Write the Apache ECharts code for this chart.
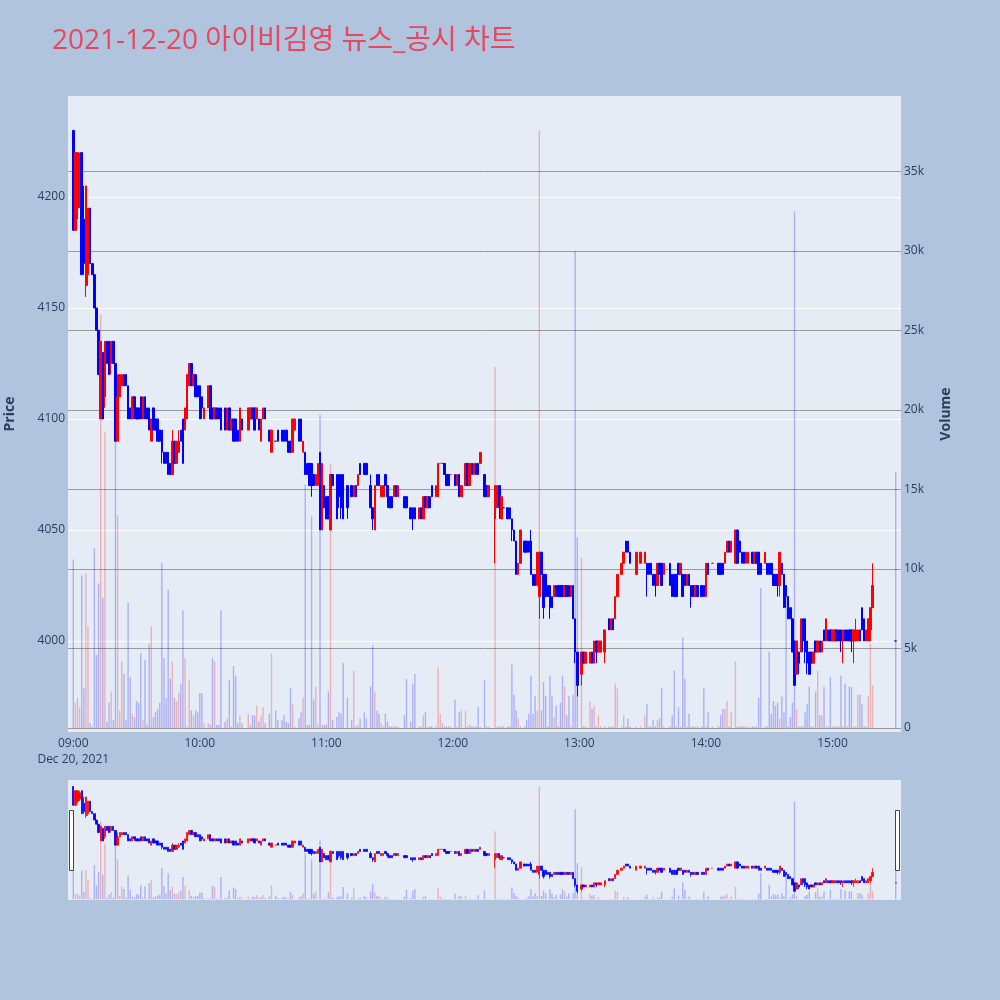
<!DOCTYPE html>
<html><head><meta charset="utf-8">
<script src="https://cdn.jsdelivr.net/npm/echarts@6/dist/echarts.min.js"></script>
<style>html,body{margin:0;padding:0;background:#b0c4de;}#c{width:1000px;height:1000px;}</style>
</head><body><div id="c"></div>
<script>
const titleText = '2021-12-20 아이비김영 뉴스_공시 차트';
const dateLabel = 'Dec 20, 2021';
const hourTicks = ['09:00','10:00','11:00','12:00','13:00','14:00','15:00'];
// one entry per minute from 09:00 (index 0) to 15:30 (index 390); null = no trade
const opens = [
4230,4185,4195,4200,4220,4190,4160,4165,4195,4170,
4165,4150,4140,4100,4130,4110,4135,4135,4125,4135,
4125,4090,4110,4115,4120,4120,4115,4105,4100,4110,
4105,4105,4110,4100,4110,4105,4105,4090,4105,4100,
4100,4095,4095,4085,4085,4085,4080,4075,4090,4080,
4085,4095,4100,4095,4100,4115,4125,4115,4120,4115,
4115,4110,4100,null,4105,4115,4105,4100,4105,4105,
4105,null,4105,4095,4105,4095,4100,4100,4095,4090,
4100,null,null,4095,4100,4105,4105,4100,4100,4090,
4100,4105,null,4095,4085,null,4090,4095,null,4095,
4095,4095,4090,4090,4085,4095,null,4100,4100,4085,
4085,4080,4080,4080,4075,4070,4070,4085,4050,4070,
4065,4065,4050,4075,null,4075,4075,4075,4075,null,
4070,null,4070,4065,4070,4070,4080,null,4080,4080,
null,4070,4060,4050,4075,4075,4065,4065,4075,4070,
4065,4065,4065,4070,4065,null,null,4065,4065,null,
4060,4060,4060,null,4055,4060,4055,4065,4060,4065,
4070,null,4065,4065,4080,4080,4080,4075,4075,4075,
null,4075,4070,4075,4065,null,4070,4080,4070,4080,
4075,4080,4080,4080,null,4075,4070,4065,null,null,
4055,4060,4070,4055,4060,null,4060,4060,4055,4050,
4045,4030,4035,null,4045,4045,4045,4045,4030,4030,
4025,4020,4040,4030,4030,4025,4025,4020,4020,4025,
4025,4025,4025,4020,4025,4025,4020,4025,4010,3995,
null,3985,3995,3990,null,3990,3995,3990,4000,3995,
3995,null,3995,null,4010,4005,4010,4010,4020,null,
4030,4035,4045,4045,4040,null,null,4030,null,4035,
null,4035,4035,4035,4035,4030,4030,4025,4035,4035,
4030,null,null,4035,4030,4030,4030,4035,4030,4030,
4030,4025,4030,4025,4025,4020,4025,null,4025,4025,
4020,4035,null,4035,null,null,4035,4035,4035,4035,
4040,4045,4040,null,4035,4050,4045,4040,4040,4035,
4035,null,4040,4035,4040,4040,4035,null,4035,4035,
4035,4035,4030,4030,4030,4025,4035,4030,4025,4020,
4015,4010,4000,3985,3995,3995,4010,4010,4000,3995,
3995,3990,4000,3995,4000,3995,4005,4000,4005,4005,
4000,4000,4005,4005,4005,4000,4005,4005,4005,4005,
4000,4000,4000,4005,4015,4010,4000,4000,4005,4015,
null,null,null,null,null,null,null,null,null,null,
4000];
const closes = [
4185,4220,4220,4215,4165,4170,4205,4195,4170,4165,
4150,4140,4120,4135,4100,4135,4125,4120,4135,4125,
4090,4110,4120,4120,4115,4115,4100,4100,4110,4105,
4100,4100,4100,4110,4100,4100,4095,4100,4095,4095,
4090,4090,4085,4080,4080,4075,4075,4090,4080,4090,
4090,4090,4080,4105,4120,4125,4115,4120,4110,4110,
4100,4105,4105,null,4115,4100,4100,4105,4100,4100,
4095,null,4095,4105,4095,4100,4090,4090,4090,4105,
4095,null,null,4105,4105,4100,4095,4105,4095,4100,
4105,4100,null,4090,4095,null,4090,4090,null,4090,
4090,4090,4085,4085,4100,4100,null,4090,4090,4090,
4075,4075,4070,4070,4070,4075,4080,4050,4080,4060,
4055,4055,4075,4070,null,4055,4065,4060,4055,null,
4060,null,4065,4070,4065,4075,4075,null,4075,4075,
null,4060,4055,4070,4070,4070,4070,4070,4070,4065,
4060,4060,4070,4065,4070,null,null,4060,4060,null,
4055,4055,4055,null,4060,4055,4065,4060,4065,4060,
4065,null,4070,4080,4080,4080,4075,4070,4070,4075,
null,4070,4075,4065,4070,null,4080,4070,4080,4075,
4080,4075,4075,4085,null,4065,4065,4070,null,null,
4070,4070,4060,4065,4060,null,4055,4055,4050,4045,
4030,4035,4050,null,4040,4040,4040,4030,4025,4025,
4040,4040,4030,4015,4020,4020,4015,4015,4025,4020,
4020,4020,4020,4025,4020,4020,4025,4010,3995,3980,
null,3995,3990,3995,null,3995,3990,4000,3995,4000,
4000,null,4005,null,4005,4010,4005,4020,4030,null,
4035,4040,4040,4040,4035,null,null,4040,null,4040,
null,4040,4030,4030,4030,4025,4025,4035,4030,4025,
4035,null,null,4025,4020,4020,4020,4030,4035,4020,
4025,4030,4025,4020,4020,4025,4020,null,4020,4020,
4035,4030,null,4035,null,null,4030,4030,4030,4040,
4045,4040,4045,null,4050,4035,4040,4035,4035,4040,
4040,null,4035,4040,4035,4030,4030,null,4040,4030,
4030,4030,4025,4025,4025,4040,4030,4015,4020,4010,
4010,3995,3980,4000,3990,4010,4000,3995,3990,3985,
3990,3995,3995,4000,3995,4000,4000,4010,4000,4000,
4005,4005,4000,4000,4000,4005,4000,4000,4000,4000,
4005,4005,4005,4000,4005,4000,4005,4010,4015,4025,
null,null,null,null,null,null,null,null,null,null,
4000];
const lows = [
4185,4185,4190,4195,4165,4165,4155,4160,4170,4165,
4150,4140,4120,4100,4100,4105,4125,4120,4120,4125,
4090,4090,4110,4115,4115,4115,4100,4100,4100,4100,
4100,4100,4100,4100,4100,4100,4095,4090,4095,4095,
4090,4090,4080,4080,4080,4075,4075,4075,4080,4080,
4085,4090,4080,4095,4100,4115,4115,4115,4110,4110,
4100,4100,4100,null,4105,4100,4100,4100,4100,4100,
4095,null,4095,4095,4095,4095,4090,4090,4090,4090,
4095,null,null,4095,4100,4100,4095,4100,4095,4090,
4100,4100,null,4090,4085,null,4090,4090,null,4090,
4090,4090,4085,4085,4085,4095,null,4090,4090,4085,
4075,4075,4070,4065,4070,4070,4070,4050,4050,4060,
4055,4055,4050,4070,null,4055,4060,4055,4055,null,
4055,null,4065,4065,4065,4070,4075,null,4075,4075,
null,4060,4050,4050,4070,4070,4065,4065,4070,4060,
4060,4060,4065,4065,4065,null,null,4060,4060,null,
4055,4050,4055,null,4055,4055,4055,4060,4060,4060,
4065,null,4065,4065,4080,4080,4075,4070,4070,4075,
null,4070,4070,4065,4065,null,4070,4070,4070,4075,
4075,4075,4075,4080,null,4065,4065,4065,null,null,
4035,4060,4055,4055,4060,null,4055,4055,4045,4045,
4030,4030,4035,null,4040,4040,4040,4030,4025,4025,
4025,4010,4030,4010,4020,4020,4010,4015,4020,4020,
4020,4020,4020,4020,4020,4020,4020,4010,3990,3975,
null,3980,3990,3990,null,3990,3990,3990,3990,3995,
3995,null,3990,null,4005,4005,4005,4010,4020,null,
4030,4035,4040,4040,4035,null,null,4030,null,4035,
null,4035,4020,4030,4030,4025,4020,4025,4030,4025,
4030,null,null,4025,4020,4020,4020,4030,4030,4020,
4025,4025,4025,4015,4020,4020,4020,null,4020,4020,
4020,4030,null,4035,null,null,4030,4030,4030,4035,
4040,4040,4040,null,4035,4035,4040,4035,4035,4035,
4035,null,4035,4035,4035,4030,4030,null,4035,4030,
4030,4030,4025,4025,4020,4020,4030,4015,4015,4010,
4010,3995,3980,3985,3985,3995,3995,3990,3985,3985,
3990,3990,3995,3995,3995,3995,4000,4000,4000,4000,
4000,4000,4000,4000,3995,3990,4000,4000,4000,3995,
3990,4000,4000,4000,4005,4000,4000,4000,4000,4015,
null,null,null,null,null,null,null,null,null,null,
4000];
const highs = [
4230,4220,4220,4220,4220,4205,4205,4195,4195,4170,
4165,4150,4140,4135,4130,4135,4135,4135,4135,4135,
4125,4120,4120,4120,4120,4120,4115,4105,4110,4110,
4105,4105,4110,4110,4110,4105,4105,4100,4105,4100,
4100,4095,4095,4085,4085,4085,4080,4095,4090,4090,
4095,4095,4100,4105,4120,4125,4125,4120,4120,4115,
4115,4110,4105,null,4115,4115,4105,4105,4105,4105,
4105,null,4105,4105,4105,4100,4100,4100,4095,4105,
4100,null,null,4105,4105,4105,4105,4105,4100,4100,
4105,4105,null,4095,4095,null,4090,4095,null,4095,
4095,4095,4090,4090,4100,4100,null,4100,4100,4090,
4085,4080,4080,4080,4075,4075,4080,4085,4080,4070,
4065,4065,4075,4075,null,4075,4075,4075,4075,null,
4070,null,4070,4070,4070,4075,4080,null,4080,4080,
null,4075,4060,4070,4075,4075,4070,4070,4075,4070,
4065,4065,4070,4070,4070,null,null,4065,4065,null,
4060,4060,4060,null,4060,4060,4065,4065,4065,4065,
4070,null,4070,4080,4080,4080,4080,4075,4075,4075,
null,4075,4075,4075,4070,null,4080,4080,4080,4080,
4080,4080,4080,4085,null,4075,4070,4070,null,null,
4070,4070,4070,4065,4060,null,4060,4060,4055,4050,
4045,4035,4050,null,4045,4045,4045,4050,4030,4030,
4040,4040,4040,4030,4030,4025,4025,4020,4025,4025,
4025,4025,4025,4025,4025,4025,4025,4025,4010,3995,
null,3995,3995,3995,null,3995,3995,4000,4000,4000,
4000,null,4005,null,4010,4010,4010,4020,4030,null,
4035,4040,4045,4045,4040,null,null,4040,null,4040,
null,4040,4035,4035,4035,4030,4030,4035,4035,4035,
4035,null,null,4035,4030,4030,4030,4035,4035,4030,
4030,4030,4030,4025,4025,4025,4025,null,4025,4025,
4035,4035,null,4035,null,null,4035,4035,4035,4040,
4045,4045,4045,null,4050,4050,4045,4040,4040,4040,
4040,null,4040,4040,4040,4040,4035,null,4040,4035,
4035,4035,4030,4030,4030,4040,4035,4030,4025,4020,
4015,4010,4000,4000,3995,4010,4010,4010,4000,3995,
3995,3995,4000,4000,4000,4000,4005,4010,4005,4005,
4005,4005,4005,4005,4005,4005,4005,4005,4005,4005,
4005,4010,4005,4005,4015,4010,4005,4010,4015,4035,
null,null,null,null,null,null,null,null,null,null,
4000];
const volumes = [
10600,1600,1900,1300,9600,2500,9700,6400,300,100,
11300,4600,9100,26000,8200,18600,400,1600,2300,500,
18000,13400,1100,4200,3400,500,7900,3200,900,700,
1700,1600,4700,500,4300,200,5300,6400,700,1000,
1200,1600,10400,4400,1900,8700,3100,4200,1900,1700,
2200,2800,7400,4400,100,3000,1100,800,1100,1000,
2200,2200,300,null,300,200,4400,4200,200,200,
7400,null,400,600,3000,100,3900,3300,300,800,
300,null,null,900,200,800,800,1400,400,800,
1300,300,null,900,4700,null,1100,500,null,500,
800,400,300,2500,1500,100,null,600,1000,1900,
15300,200,200,13300,1800,2600,200,19700,200,200,
200,2300,16600,500,null,700,1000,900,4100,null,
1900,null,500,3600,100,200,600,null,1000,600,
null,2600,5200,2300,1100,900,300,100,900,400,
100,100,100,100,100,null,null,800,3100,null,
400,2800,3400,null,100,100,800,1000,100,100,
100,null,100,3800,900,300,100,100,100,100,
null,1800,100,1000,1100,null,1100,100,200,100,
100,100,1300,100,null,3000,100,100,null,null,
22700,100,100,100,100,null,100,100,4000,2100,
1100,600,100,null,100,500,900,3300,900,2000,
1100,37600,1100,2900,2000,100,3300,2000,700,1400,
100,1600,3300,2600,800,2000,100,2100,30000,12000,
null,10700,100,100,null,1700,1200,1400,100,800,
100,null,100,null,100,100,100,2800,2500,null,
100,800,100,600,100,null,null,100,null,100,
null,800,1500,100,100,500,100,500,600,2500,
100,null,null,100,800,3600,100,1300,100,5700,
3100,100,900,100,100,100,100,null,100,2500,
100,1000,null,100,null,null,100,800,1200,1200,
1700,100,1000,null,4200,100,100,100,100,100,
100,null,100,100,100,1900,8800,null,100,100,
4800,900,1700,1400,1600,600,2000,1000,8500,100,
700,1600,32500,1200,100,100,100,1000,1500,2600,
100,100,2300,3600,800,800,2600,100,100,3200,
100,100,100,100,3300,100,2800,100,2600,2600,
100,100,2100,2100,1500,100,100,2000,5300,2700,
null,null,null,null,null,null,null,null,null,null,
16100];

const UP = '#ff0000', DOWN = '#0000ff';
const UP_V = 'rgba(255,0,0,0.25)', DOWN_V = 'rgba(0,0,255,0.25)';
const PAD_BEFORE = 2, PAD_AFTER = 2;
function pad2(n){ return (n < 10 ? '0' : '') + n; }
const minuteLabels = [];
const startMin = 9*60 - PAD_BEFORE, endMin = 9*60 + opens.length - 1 + PAD_AFTER;
for (let t = startMin; t <= endMin; t++) minuteLabels.push(pad2(Math.floor(t/60)) + ':' + pad2(t % 60));

const candleData = [], volData = [];
let prevClose = null;
for (let i = 0; i < minuteLabels.length; i++) {
  const m = i - PAD_BEFORE;
  if (m < 0 || m >= opens.length || opens[m] == null) {
    candleData.push(['-','-','-','-']); volData.push('-'); continue;
  }
  const o = opens[m], c = closes[m];
  let up = c > o ? true : c < o ? false : (prevClose == null ? true : c >= prevClose);
  prevClose = c;
  const col = up ? UP : DOWN;
  candleData.push({ value: [o, c, lows[m], highs[m]], itemStyle: { color: col, color0: col, borderColor: col, borderColor0: col } });
  volData.push({ value: volumes[m], itemStyle: { color: up ? UP_V : DOWN_V } });
}

const FONT = "'Open Sans', 'Noto Sans CJK KR', sans-serif";
const TXT = '#2a3f5f';
const PMIN = 3959, PMAX = 4245.5, VMIN = -250, VMAX = 39750;

const chart = echarts.init(document.getElementById('c'), null, { renderer: 'canvas' });
chart.setOption({
  animation: false,
  backgroundColor: '#b0c4de',
  textStyle: { fontFamily: FONT },
  title: { text: titleText, left: 47, top: 22, textStyle: { color: '#e8475f', fontSize: 28, fontWeight: 'normal', fontFamily: FONT } },
  grid: [
    { left: 68, right: 99, top: 96, height: 636, show: true, backgroundColor: '#e5ecf6', borderWidth: 0, containLabel: false, outerBoundsMode: 'none' },
    { left: 68, right: 99, top: 780, height: 120, show: true, backgroundColor: '#e5ecf6', borderWidth: 0, containLabel: false, outerBoundsMode: 'none' }
  ],
  xAxis: [
    { type: 'category', gridIndex: 0, data: minuteLabels, boundaryGap: true,
      axisLine: { show: false }, axisTick: { show: false }, splitLine: { show: false },
      axisLabel: { color: TXT, fontSize: 12, margin: 4, lineHeight: 16, fontFamily: FONT,
        interval: (idx, val) => hourTicks.indexOf(val) >= 0,
        formatter: val => val === hourTicks[0] ? val + '\n' + dateLabel : val } },
    { type: 'category', gridIndex: 1, data: minuteLabels, boundaryGap: true, show: false }
  ],
  yAxis: [
    { type: 'value', gridIndex: 0, min: PMIN, max: PMAX, splitNumber: 5, position: 'left',
      axisLine: { show: false }, axisTick: { show: false },
      splitLine: { show: true, showMinLine: false, showMaxLine: false, lineStyle: { color: '#ffffff', width: 1 } },
      axisLabel: { color: TXT, fontSize: 12, margin: 3, showMinLabel: false, showMaxLabel: false, fontFamily: FONT,
        formatter: v => String(v) },
      name: 'Price', nameLocation: 'middle', nameGap: 51, nameRotate: 90,
      nameTextStyle: { color: TXT, fontSize: 14, fontWeight: 'bold', fontFamily: FONT } },
    { type: 'value', gridIndex: 0, min: VMIN, max: VMAX, splitNumber: 8, position: 'right',
      axisLine: { show: false }, axisTick: { show: false },
      splitLine: { show: true, showMinLine: false, showMaxLine: false, lineStyle: { color: '#9a9a9a', width: 1 } },
      axisLabel: { color: TXT, fontSize: 12, margin: 3, showMinLabel: false, showMaxLabel: false, fontFamily: FONT,
        formatter: v => v === 0 ? '0' : (v / 1000) + 'k' },
      name: 'Volume', nameLocation: 'middle', nameGap: 38, nameRotate: 90,
      nameTextStyle: { color: TXT, fontSize: 14, fontWeight: 'bold', fontFamily: FONT } },
    { type: 'value', gridIndex: 1, min: PMIN, max: PMAX, show: false, splitLine: { show: false } },
    { type: 'value', gridIndex: 1, min: VMIN, max: VMAX, show: false, splitLine: { show: false } }
  ],
  series: [
    { type: 'bar', xAxisIndex: 0, yAxisIndex: 1, data: volData, barWidth: 1.4, z: 1, silent: true },
    { type: 'candlestick', xAxisIndex: 0, yAxisIndex: 0, data: candleData, barWidth: 2, z: 2, silent: true,
      itemStyle: { borderWidth: 1 } },
    { type: 'bar', xAxisIndex: 1, yAxisIndex: 3, data: volData, barWidth: 1.4, z: 1, silent: true },
    { type: 'candlestick', xAxisIndex: 1, yAxisIndex: 2, data: candleData, barWidth: 1.8, z: 2, silent: true,
      itemStyle: { borderWidth: 0.8 } }
  ],
  graphic: [
    { type: 'rect', left: 69, top: 810, shape: { width: 4, height: 60 }, style: { fill: '#ffffff', stroke: '#444444', lineWidth: 1 }, z: 10 },
    { type: 'rect', left: 895, top: 810, shape: { width: 4, height: 60 }, style: { fill: '#ffffff', stroke: '#444444', lineWidth: 1 }, z: 10 }
  ]
});
</script></body></html>
